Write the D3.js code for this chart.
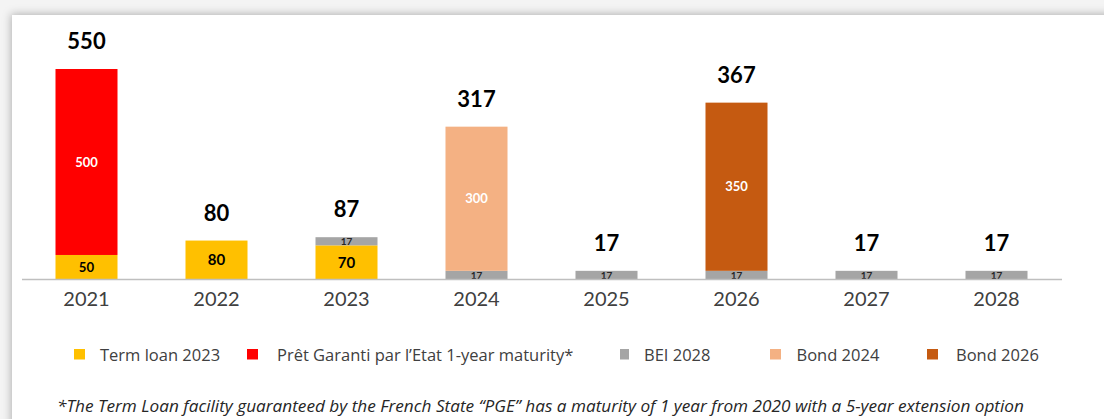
<!DOCTYPE html>
<html>
<head>
<meta charset="utf-8">
<script src="https://cdn.jsdelivr.net/npm/d3@7"></script>
<style>
    html, body { margin: 0; padding: 0; background: #fff; }
    svg { display: block; }
</style>
</head>
<body>
<div id="chart"></div>
<script>
// values (EUR m)
const years = ['2021', '2022', '2023', '2024', '2025', '2026', '2027', '2028'];
const termLoan = [50, 80, 70, 0, 0, 0, 0, 0];
const pge = [500, 0, 0, 0, 0, 0, 0, 0];
const bei = [0, 0, 17, 17, 17, 17, 17, 17];
const bond2024 = [0, 0, 0, 300, 0, 0, 0, 0];
const bond2026 = [0, 0, 0, 0, 0, 350, 0, 0];

const seriesKeys = ['termLoan', 'pge', 'bei', 'bond2024', 'bond2026'];
const seriesNames = ['Term loan 2023', 'Prêt Garanti par l’Etat 1-year maturity*', 'BEI 2028', 'Bond 2024', 'Bond 2026'];
const footnote = '*The Term Loan facility guaranteed by the French State “PGE” has a maturity of 1 year from 2020 with a 5-year extension option';

const width = 1104;
const height = 419;
const font = 'Lato, "Open Sans", sans-serif';
const textFont = '"Open Sans", Lato, sans-serif';

const colors = ['#FFC000', '#FF0000', '#A5A5A5', '#F4B183', '#C55A11'];
const labelColors = ['#000', '#fff', '#262626', '#fff', '#fff'];
const labelSizes = [15, 13, 11, 13, 13];

// table for d3.stack
const table = years.map((y, i) => ({
    year: y,
    termLoan: termLoan[i],
    pge: pge[i],
    bei: bei[i],
    bond2024: bond2024[i],
    bond2026: bond2026[i]
}));

const stacked = d3.stack().keys(seriesKeys)(table);
const totals = table.map(d => d3.sum(seriesKeys, k => d[k]));

const svg = d3.select('#chart')
    .append('svg')
        .attr('width', width)
        .attr('height', height);

// card shadow
const defs = svg.append('defs');
const f = defs.append('filter')
    .attr('id', 'shadow')
    .attr('x', -0.05).attr('y', -0.1)
    .attr('width', 1.2).attr('height', 1.3);
f.append('feDropShadow')
    .attr('dx', -1).attr('dy', -1)
    .attr('stdDeviation', 4)
    .attr('flood-color', '#000')
    .attr('flood-opacity', 0.28);

svg.append('rect')
    .attr('width', width).attr('height', height)
    .attr('fill', '#f4f4f4');
svg.append('rect')
    .attr('x', 12).attr('y', 15)
    .attr('width', width + 40).attr('height', height + 40)
    .attr('fill', '#fff')
    .attr('filter', 'url(#shadow)');

// scales
const x = d3.scaleBand()
    .domain(years)
    .range([21.5, 1061.5])
    .paddingInner(0.523)
    .paddingOuter(0.2615);

// the 2021 bar is cut at the top of the plot, as in the original
const y = d3.scaleLinear()
    .domain([0, 437])
    .range([279, 69])
    .clamp(true);

// bars
const layers = svg.append('g')
    .selectAll('g')
    .data(stacked)
    .join('g')
        .attr('fill', (d, i) => colors[i]);

layers.selectAll('rect')
    .data(d => d.filter(s => s[1] - s[0] > 0))
    .join('rect')
        .attr('x', d => x(d.data.year))
        .attr('width', x.bandwidth())
        .attr('y', d => y(d[1]))
        .attr('height', d => y(d[0]) - y(d[1]));

// labels inside segments
svg.append('g')
    .selectAll('g')
    .data(stacked)
    .join('g')
        .attr('fill', (d, i) => labelColors[i])
        .attr('data-size', (d, i) => labelSizes[i])
    .selectAll('text')
    .data(d => d.filter(s => s[1] - s[0] > 0))
    .join('text')
        .attr('x', d => x(d.data.year) + x.bandwidth() / 2)
        .attr('y', d => (y(d[0]) + y(d[1])) / 2)
        .attr('dy', '0.36em')
        .attr('text-anchor', 'middle')
        .style('font-family', font)
        .style('font-weight', 700)
        .style('font-size', function(d) {
            const s = +this.parentNode.getAttribute('data-size');
            const h = y(d[0]) - y(d[1]);
            return (h < 14 ? 10 : Math.min(s, h * 0.55)) + 'px';
        })
        .text(d => d[1] - d[0]);

// totals
svg.append('g')
    .selectAll('text')
    .data(years)
    .join('text')
        .attr('x', d => x(d) + x.bandwidth() / 2)
        .attr('y', (d, i) => y(totals[i]) - 20)
        .attr('text-anchor', 'middle')
        .style('font-family', font)
        .style('font-weight', 700)
        .style('font-size', '22px')
        .attr('fill', '#000')
        .text((d, i) => totals[i]);

// x axis
const xx = g =>
    g
        .attr('transform', `translate(0,${y(0)})`)
        .call(d3.axisBottom(x).tickSize(0).tickSizeOuter(0))
        .call(g => g.select('.domain')
            .attr('stroke', '#bfbfbf')
            .attr('stroke-width', 1.5))
        .call(g => g.selectAll('.tick text')
            .attr('y', 27)
            .attr('dy', 0)
            .attr('fill', '#404040')
            .style('font-family', font)
            .style('font-size', '20px'));

svg.append('g')
    .call(xx);

// legend
const legendX = [74, 247, 620, 770, 927];
const legendGap = [26, 30, 24, 26.5, 29];
const legend = svg.append('g')
    .selectAll('g')
    .data(seriesNames)
    .join('g')
        .attr('transform', (d, i) => `translate(${legendX[i]},349)`);

legend.append('rect')
    .attr('width', (d, i) => i === 2 ? 9 : 11)
    .attr('height', 10.5)
    .attr('fill', (d, i) => colors[i]);

legend.append('text')
    .attr('x', (d, i) => legendGap[i])
    .attr('y', 11.5)
    .attr('fill', '#404040')
    .style('font-family', textFont)
    .style('font-size', '16.5px')
    .text(d => d);

// footnote
svg.append('text')
    .attr('x', 57)
    .attr('y', 412)
    .attr('fill', '#262626')
    .style('font-family', textFont)
    .style('font-style', 'italic')
    .style('font-size', '17.2px')
    .text(footnote);
</script>
</body>
</html>
